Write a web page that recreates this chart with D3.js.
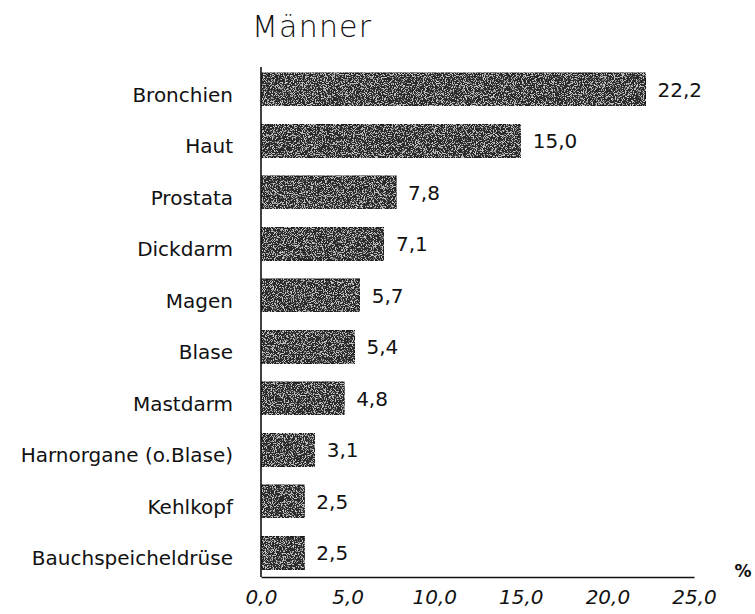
<!DOCTYPE html>
<html>
<head>
<meta charset="utf-8">
<script src="https://cdn.jsdelivr.net/npm/d3@7"></script>
<style>
    body { margin: 0; background: #fff; }
    svg text { font-family: "DejaVu Sans", sans-serif; fill: #111; }
</style>
</head>
<body>
<svg id="chart"></svg>
<script>
var categories = ["Bronchien", "Haut", "Prostata", "Dickdarm", "Magen", "Blase",
    "Mastdarm", "Harnorgane (o.Blase)", "Kehlkopf", "Bauchspeicheldrüse"];
var values = [22.2, 15.0, 7.8, 7.1, 5.7, 5.4, 4.8, 3.1, 2.5, 2.5];
var ticks = [0, 5, 10, 15, 20, 25];
var title = "Männer";
var unit = "%";

var width = 755,
    height = 614;

var svg = d3.select("#chart")
    .attr("width", width)
    .attr("height", height);

var fmt = function (d) {
    return d.toFixed(1).replace(".", ",");
};

var x = d3.scaleLinear()
    .domain([0, 25])
    .range([261, 694]);

var y = d3.scaleBand()
    .domain(categories)
    .range([63.7, 578.7])
    .paddingInner(0.36)
    .paddingOuter(0.18);

// faint speckles like the scanned halftone
var defs = svg.append("defs");
var f = defs.append("filter").attr("id", "grain")
    .attr("x", 0).attr("y", 0).attr("width", 1).attr("height", 1);
f.append("feTurbulence")
    .attr("type", "fractalNoise")
    .attr("baseFrequency", 1.1)
    .attr("numOctaves", 2)
    .attr("seed", 7)
    .attr("result", "noise");
f.append("feColorMatrix")
    .attr("in", "noise")
    .attr("type", "matrix")
    .attr("values", "0 0 0 0 0.55  0 0 0 0 0.55  0 0 0 0 0.55  0 0 0 -9 4.3")
    .attr("result", "dots");
f.append("feComposite")
    .attr("in", "dots")
    .attr("in2", "SourceGraphic")
    .attr("operator", "in")
    .attr("result", "spk");
f.append("feMerge").selectAll("feMergeNode")
    .data(["SourceGraphic", "spk"])
    .enter().append("feMergeNode")
    .attr("in", function (d) { return d; });

svg.append("text")
    .attr("x", 252)
    .attr("y", 37)
    .attr("font-size", 30)
    .attr("font-weight", 200)
    .attr("letter-spacing", 1.2)
    .text(title);

var bars = svg.append("g").attr("class", "bars");

bars.selectAll("rect")
    .data(values)
    .enter().append("rect")
    .attr("x", x(0))
    .attr("y", function (d, i) {
        return y(categories[i]);
    })
    .attr("width", function (d) {
        return x(d) - x(0);
    })
    .attr("height", y.bandwidth())
    .attr("fill", "#2a2a2a")
    .attr("stroke", "#151515")
    .attr("stroke-width", 1)
    .attr("filter", "url(#grain)");

bars.selectAll("text.value")
    .data(values)
    .enter().append("text")
    .attr("class", "value")
    .attr("x", function (d) {
        return x(d) + 12;
    })
    .attr("y", function (d, i) {
        return y(categories[i]) + y.bandwidth() / 2;
    })
    .attr("dy", "0.36em")
    .attr("font-size", 20)
    .text(fmt);

svg.append("g")
    .attr("class", "labels")
    .selectAll("text")
    .data(categories)
    .enter().append("text")
    .attr("x", 233)
    .attr("y", function (d) {
        return y(d) + y.bandwidth() / 2 + 5;
    })
    .attr("dy", "0.36em")
    .attr("text-anchor", "end")
    .attr("font-size", 20)
    .text(function (d) { return d; });

// axes
svg.append("line")
    .attr("x1", x(0)).attr("x2", x(0))
    .attr("y1", 67).attr("y2", 577)
    .attr("stroke", "#111")
    .attr("stroke-width", 1.6);

var xAxis = svg.append("g")
    .attr("transform", "translate(0,577)")
    .call(d3.axisBottom(x).tickValues(ticks).tickSize(0).tickPadding(27).tickFormat(fmt));

xAxis.select(".domain")
    .attr("stroke", "#111")
    .attr("stroke-width", 1.6);

xAxis.selectAll("text")
    .attr("font-family", "DejaVu Sans, sans-serif")
    .attr("font-size", 20)
    .attr("font-style", "italic")
    .attr("fill", "#111")
    .attr("dy", 0);

svg.append("text")
    .attr("x", 743)
    .attr("y", 577)
    .attr("text-anchor", "middle")
    .attr("font-size", 17)
    .attr("font-weight", "bold")
    .text(unit);
</script>
</body>
</html>
